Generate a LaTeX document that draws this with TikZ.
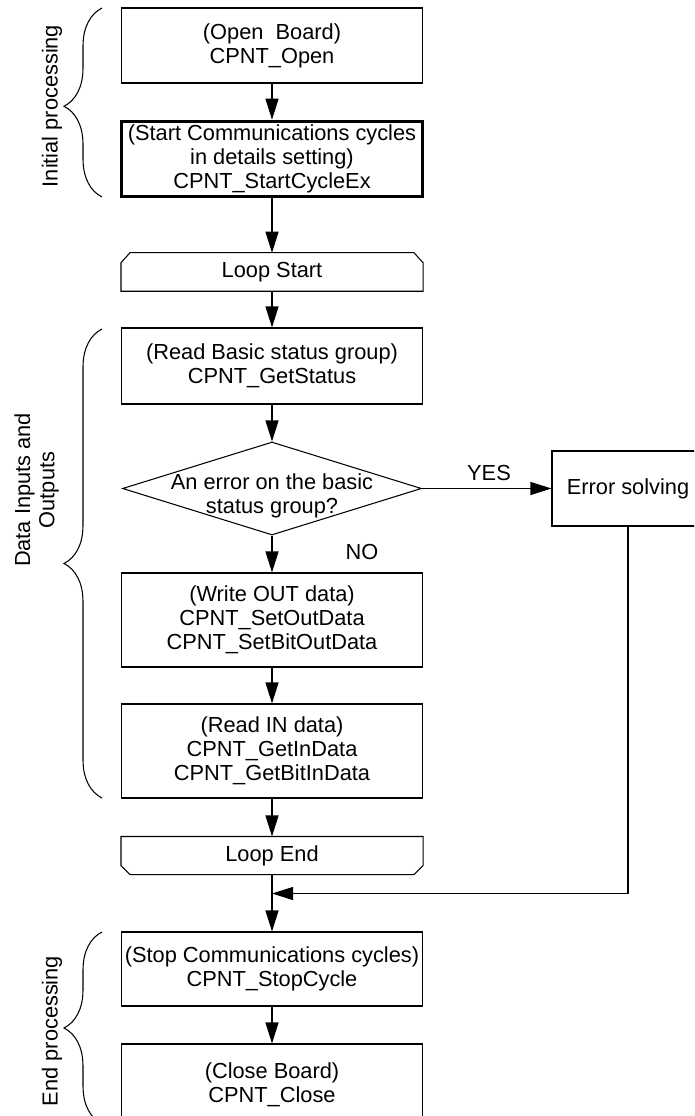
\documentclass[tikz,border=0pt]{standalone}
\usepackage{fontspec}
\setmainfont{Liberation Sans}
\usetikzlibrary{arrows.meta,shapes.geometric,decorations.pathreplacing}

\begin{document}
\begin{tikzpicture}[
    font=\fontsize{12.4}{13.8}\selectfont,
    line width=0.6pt,
    proc/.style={draw, minimum width=6.02cm, minimum height=1.5cm,
                 inner sep=0pt, align=center},
    loopbox/.style={minimum width=6.02cm, minimum height=0.75cm, inner sep=0pt},
    decision/.style={draw, diamond, minimum width=5.98cm, minimum height=1.86cm,
                     inner sep=0pt},
    flow/.style={-{Triangle[length=0.42cm, width=0.26cm]}},
    grp/.style={decorate, decoration={brace, amplitude=0.76cm}},
    grplabel/.style={rotate=90, align=center},
]
\useasboundingbox (0,0) rectangle (13.88,-22.32);
\clip (0,0) rectangle (13.88,-22.32);

% Initial processing
\node[proc] (open) at (5.44,-0.91) {(Open\ \ Board)\\CPNT\_Open};
\node[proc, line width=2pt] (start) at (5.44,-3.18)
    {(Start Communications cycles\\in details setting)\\CPNT\_StartCycleEx};

% Loop start
\node[loopbox] (lstart) at (5.44,-5.44) {Loop Start};
\draw (lstart.south west) -- ([yshift=-0.2cm]lstart.north west)
    -- ([xshift=0.18cm]lstart.north west) -- ([xshift=-0.18cm]lstart.north east)
    -- ([yshift=-0.2cm]lstart.north east) -- (lstart.south east) -- cycle;

% Data inputs and outputs
\node[proc, minimum height=1.52cm] (getstat) at (5.44,-7.32)
    {(Read Basic status group)\\CPNT\_GetStatus};
\node[decision, label={[align=center, yshift=-0.14cm]center:An error on the basic\\status group?}]
    (check) at (5.44,-9.77) {};
\node[proc, minimum width=3.04cm] (err) at (12.56,-9.77) {Error solving};
\node[proc, minimum height=1.88cm] (setout) at (5.44,-12.4)
    {(Write OUT data)\\CPNT\_SetOutData\\CPNT\_SetBitOutData};
\node[proc, minimum height=1.88cm] (getin) at (5.44,-15.02)
    {(Read IN data)\\CPNT\_GetInData\\CPNT\_GetBitInData};

% Loop end
\node[loopbox, minimum height=0.74cm] (lend) at (5.44,-17.11) {Loop End};
\draw (lend.north west) -- ([yshift=0.18cm]lend.south west)
    -- ([xshift=0.18cm]lend.south west) -- ([xshift=-0.18cm]lend.south east)
    -- ([yshift=0.18cm]lend.south east) -- (lend.north east) -- cycle;

% End processing
\node[proc, minimum height=1.48cm] (stop) at (5.44,-19.38)
    {(Stop Communications cycles)\\CPNT\_StopCycle};
\node[proc, minimum height=1.64cm] (close) at (5.44,-21.7)
    {(Close Board)\\CPNT\_Close};

% Branch labels
\node (yes) at (9.78,-9.46) {YES};
\node (no) at (7.24,-11.04) {NO};
\coordinate (back) at (5.44,-17.87);

% Flow arrows
\draw[flow] (open.south) -- (start.north);
\draw[flow] (start.south) -- (lstart.north);
\draw[flow] (lstart.south) -- (getstat.north);
\draw[flow] (getstat.south) -- (check.north);
\draw[flow] (check.south) -- (setout.north);
\draw[flow] (check.east) -- (err.west);
\draw[flow] (setout.south) -- (getin.north);
\draw[flow] (getin.south) -- (lend.north);
\draw[flow] (lend.south) -- (stop.north);
\draw[flow] (err.south) |- (back);
\draw[flow] (stop.south) -- (close.north);

% Group braces
\draw[grp, decoration={aspect=0.48}] (2.04,-3.94) -- (2.04,-0.16);
\draw[grp] (2.04,-15.96) -- (2.04,-6.58);
\draw[grp] (2.04,-22.48) -- (2.04,-18.64);
\node[grplabel] (lblinit) at (1.04,-2.12) {Initial processing};
\node[grplabel] (lbldata) at (0.73,-9.8) {Data Inputs and\\Outputs};
\node[grplabel] (lblend) at (1.04,-20.62) {End processing};
\end{tikzpicture}
\end{document}
